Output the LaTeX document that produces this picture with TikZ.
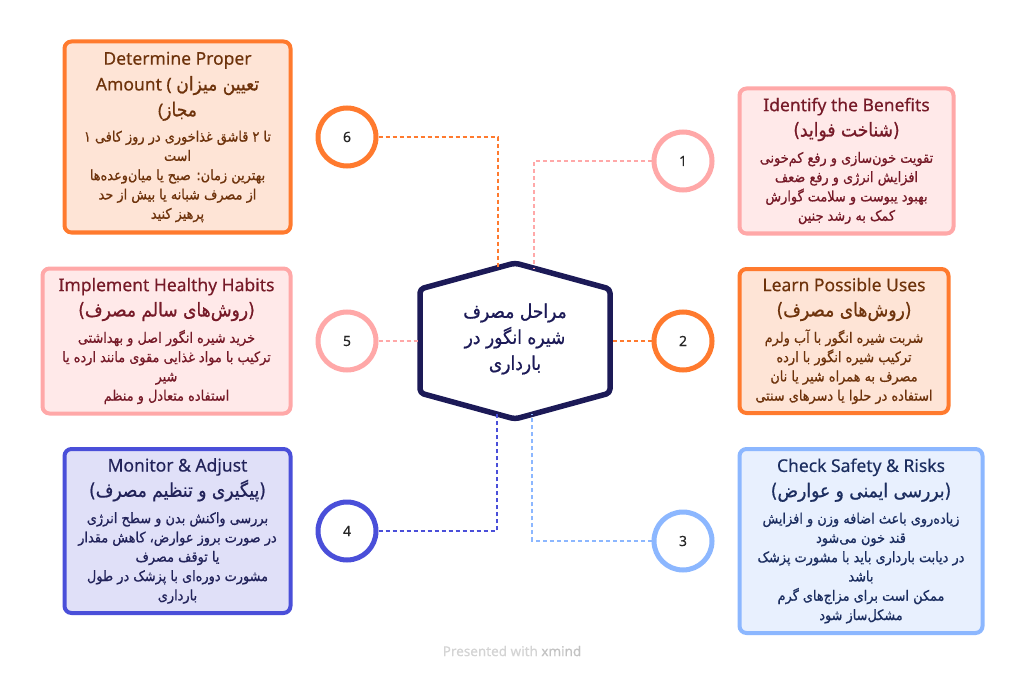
\documentclass[tikz,border=0pt]{standalone}
\usepackage{fontspec}
\setmainfont{Noto Sans}[FakeBold=0.3]
\newfontfamily\persianfont[Script=Arabic, FakeBold=0.8, FakeStretch=0.9]{DejaVu Sans}
\TeXXeTstate=1
\usetikzlibrary{calc}
\usetikzlibrary{positioning}
\setlength{\lineskiplimit}{-20pt}

\definecolor{orangeline}{HTML}{FF7A2E}
\definecolor{orangefill}{HTML}{FEE4D6}
\definecolor{orangetext}{HTML}{6E330C}
\definecolor{pinkline}{HTML}{FFA8A8}
\definecolor{pinkfill}{HTML}{FFE9E9}
\definecolor{pinktext}{HTML}{761A28}
\definecolor{violetline}{HTML}{4A4FD9}
\definecolor{violetfill}{HTML}{E0E0F8}
\definecolor{violettext}{HTML}{22235A}
\definecolor{blueline}{HTML}{8CB7FF}
\definecolor{bluefill}{HTML}{E8F0FE}
\definecolor{bluetext}{HTML}{1C2E60}
\definecolor{hubnavy}{HTML}{1C1A57}
\definecolor{wmgray}{HTML}{D4D4D4}
\definecolor{wmdark}{HTML}{C2C2C2}

\newcommand{\fatxt}[1]{{\persianfont\beginR #1\endR}}
\newcommand{\headfont}{\fontsize{17.5}{19.3}\selectfont}
\newcommand{\faheadfont}{\fontsize{19}{19.3}\selectfont}

\begin{document}
\begin{tikzpicture}[x=1pt, y=-1pt]
    \tikzstyle{stage}=[draw, circle, line width=5pt, minimum size=58pt, inner sep=0pt, fill=white, text=black!85, font=\fontsize{14}{16}\selectfont]
    \tikzstyle{stepbox}=[draw, rounded corners=7pt, line width=4pt, inner sep=0pt, align=center, font=\fontsize{14.3}{19.3}\selectfont]
    \tikzstyle{link}=[line width=1.3pt, dash pattern=on 4pt off 3pt]

    \useasboundingbox[fill=white] (0,0) rectangle (1024,676);

    % Central hexagon
    \node[text=hubnavy, align=center, font=\fontsize{19}{26}\selectfont] (hub) at (515,339)
      {\fatxt{مراحل مصرف}\\\fatxt{شیره انگور در}\\\fatxt{بارداری}};
    \coordinate (hn) at (515,263);
    \coordinate (hne) at ($(hn) + (95,26)$);
    \coordinate (hse) at ($(hn) + (95,130)$);
    \coordinate (hs) at ($(hn) + (0,156)$);
    \coordinate (hsw) at ($(hn) + (-95,130)$);
    \coordinate (hnw) at ($(hn) + (-95,26)$);
    \coordinate (hw) at ($(hnw)!0.5!(hsw)$);
    \coordinate (he) at ($(hne)!0.5!(hse)$);
    \draw[hubnavy, line width=5.5pt, rounded corners=4pt, line join=round]
      (hn) -- (hne) -- (hse) -- (hs) -- (hsw) -- (hnw) -- cycle;

    % Numbered stages
    \node[stage, draw=pinkline] (c1) at (683,161) {1};
    \node[stage, draw=orangeline] (c2) at (683,341) {2};
    \node[stage, draw=blueline] (c3) at (683,541) {3};
    \node[stage, draw=violetline] (c4) at (347,531) {4};
    \node[stage, draw=pinkline] (c5) at (347,341) {5};
    \node[stage, draw=orangeline] (c6) at (347,137) {6};

    % Connectors
    \draw[link, pinkline] (c1.west) -| ($(hn)!0.2!(hne)$);
    \draw[link, orangeline] (c2.west) -- (he);
    \draw[link, blueline] (c3.west) -| ($(hs)!0.18!(hse)$);
    \draw[link, violetline] (c4.east) -| ($(hsw)!0.81!(hs)$);
    \draw[link, pinkline] (c5.east) -- (hw);
    \draw[link, orangeline] (c6.east) -| ($(hnw)!0.82!(hn)$);

    % Step boxes
    \node[stepbox, draw=pinkline, fill=pinkfill, text=pinktext,
      minimum width=214pt, minimum height=145pt, right=23pt of c1] (b1)
      {{\headfont Identify the Benefits}\\[6pt]
       {\faheadfont\fatxt{(شناخت فواید)}}\\[7pt]
       \fatxt{تقویت خون‌سازی و رفع کم‌خونی}\\
       \fatxt{افزایش انرژی و رفع ضعف}\\
       \fatxt{بهبود یبوست و سلامت گوارش}\\
       \fatxt{کمک به رشد جنین}};
    \node[stepbox, draw=orangeline, fill=orangefill, text=orangetext,
      minimum width=209pt, minimum height=144pt, right=23pt of c2] (b2)
      {{\headfont Learn Possible Uses}\\[6pt]
       {\faheadfont\fatxt{(روش‌های مصرف)}}\\[7pt]
       \fatxt{شربت شیره انگور با آب ولرم}\\
       \fatxt{ترکیب شیره انگور با ارده}\\
       \fatxt{مصرف به همراه شیر یا نان}\\
       \fatxt{استفاده در حلوا یا دسرهای سنتی}};
    \node[stepbox, draw=blueline, fill=bluefill, text=bluetext,
      minimum width=243pt, minimum height=184pt, right=23pt of c3] (b3)
      {{\headfont Check Safety \& Risks}\\[6pt]
       {\faheadfont\fatxt{(بررسی ایمنی و عوارض)}}\\[7pt]
       \fatxt{زیاده‌روی باعث اضافه وزن و افزایش}\\
       \fatxt{قند خون می‌شود}\\
       \fatxt{در دیابت بارداری باید با مشورت پزشک}\\
       \fatxt{باشد}\\
       \fatxt{ممکن است برای مزاج‌های گرم}\\
       \fatxt{مشکل‌ساز شود}};
    \node[stepbox, draw=violetline, fill=violetfill, text=violettext,
      minimum width=226pt, minimum height=164pt, left=23pt of c4] (b4)
      {{\headfont Monitor \& Adjust}\\[6pt]
       {\faheadfont\fatxt{(پیگیری و تنظیم مصرف)}}\\[7pt]
       \fatxt{بررسی واکنش بدن و سطح انرژی}\\
       \fatxt{در صورت بروز عوارض، کاهش مقدار}\\
       \fatxt{یا توقف مصرف}\\
       \fatxt{مشورت دوره‌ای با پزشک در طول}\\
       \fatxt{بارداری}};
    \node[stepbox, draw=pinkline, fill=pinkfill, text=pinktext,
      minimum width=248pt, minimum height=145pt, left=23pt of c5] (b5)
      {{\headfont Implement Healthy Habits}\\[6pt]
       {\faheadfont\fatxt{(روش‌های سالم مصرف)}}\\[7pt]
       \fatxt{خرید شیره انگور اصل و بهداشتی}\\
       \fatxt{ترکیب با مواد غذایی مقوی مانند ارده یا}\\
       \fatxt{شیر}\\
       \fatxt{استفاده متعادل و منظم}};
    \node[stepbox, draw=orangeline, fill=orangefill, text=orangetext,
      minimum width=226pt, minimum height=191pt, left=23pt of c6] (b6)
      {{\headfont Determine Proper}\\[6.5pt]
       {\headfont Amount ( {\faheadfont\fatxt{تعیین میزان}}}\\[6.5pt]
       {\headfont (\faheadfont\fatxt{مجاز}}\\[6pt]
       \fatxt{تا ۲ قاشق غذاخوری در روز کافی ۱}\\
       \fatxt{است}\\
       \fatxt{بهترین زمان: صبح یا میان‌وعده‌ها}\\
       \fatxt{از مصرف شبانه یا بیش از حد}\\
       \fatxt{پرهیز کنید}};

    % Footer
    \node[text=wmgray, font=\fontsize{13.5}{15}\selectfont] (credit) at (512,651)
      {Presented with \textcolor{wmdark}{\textbf{xmind}}};
\end{tikzpicture}
\end{document}
